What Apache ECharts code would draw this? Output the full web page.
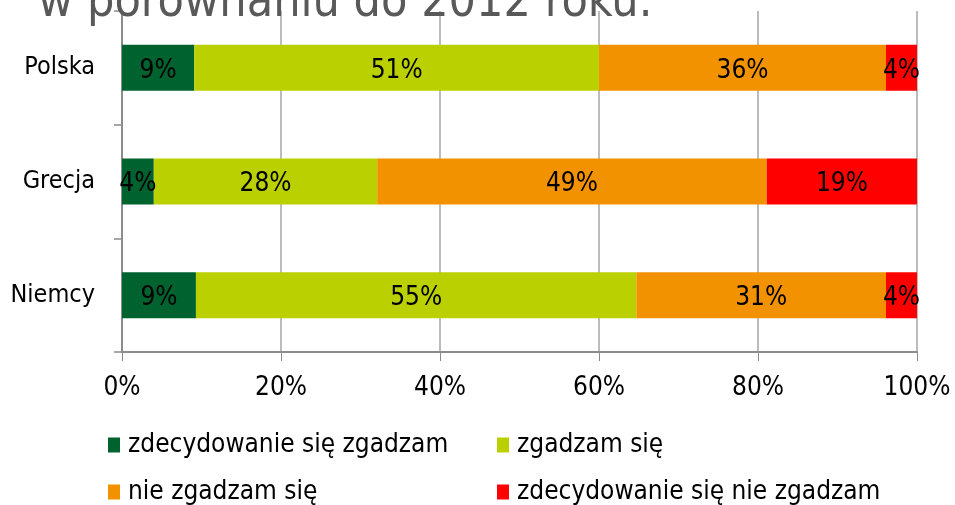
<!DOCTYPE html>
<html>
<head>
<meta charset="utf-8">
<script src="https://cdn.jsdelivr.net/npm/echarts@6/dist/echarts.min.js"></script>
<style>
  html, body { margin: 0; padding: 0; background: #fff; }
  #chart { width: 955px; height: 505px; }
</style>
</head>
<body>
<div id="chart"></div>
<script>
// dane (procenty)
const countries = ['Polska', 'Grecja', 'Niemcy']
const seriesNames = ['zdecydowanie się zgadzam', 'zgadzam się', 'nie zgadzam się', 'zdecydowanie się nie zgadzam']
const stronglyAgree = [9.1, 4.0, 9.3]
const agree = [50.9, 28.1, 55.4]
const disagree = [36.1, 49.0, 31.4]
const stronglyDisagree = [3.9, 18.9, 3.9]
const xTicks = [0, 20, 40, 60, 80, 100]

const colors = ['#00622E', '#BBD000', '#F39200', '#FF0000']
const FONT = '"DejaVu Sans Condensed", "DejaVu Sans", sans-serif'

const chart = echarts.init(document.getElementById('chart'))

const values = [stronglyAgree, agree, disagree, stronglyDisagree]

const series = values.map((data, i) => ({
  name: seriesNames[i],
  type: 'bar',
  stack: 'total',
  barWidth: 46,
  data: data,
  itemStyle: { color: colors[i] },
  label: {
    show: true,
    position: 'inside',
    offset: [0, 3],
    color: '#000',
    fontFamily: FONT,
    fontSize: 26,
    formatter: (p) => Math.round(p.value) + '%'
  }
}))

// legenda w dwóch kolumnach
const legendPos = [
  { left: 108, top: 432 },
  { left: 497, top: 432 },
  { left: 108, top: 479 },
  { left: 497, top: 479 }
]
const legends = legendPos.map((pos, i) => ({
  left: pos.left,
  top: pos.top,
  data: [seriesNames[i]],
  icon: 'rect',
  itemWidth: 12,
  itemHeight: 15,
  itemGap: 8,
  padding: 0,
  textStyle: { color: '#000', fontFamily: FONT, fontSize: 26, padding: [0, 0, 0, 3] }
}))

const option = {
  animation: false,
  backgroundColor: '#fff',
  grid: { left: 122, right: 38, top: 11, bottom: 153 },
  legend: legends,
  xAxis: {
    type: 'value',
    min: xTicks[0],
    max: xTicks[xTicks.length - 1],
    interval: 20,
    axisLine: { show: true, lineStyle: { color: '#8C8C8C', width: 2 } },
    axisTick: { show: true, length: 9, lineStyle: { color: '#8C8C8C' } },
    splitLine: { show: true, lineStyle: { color: '#A6A6A6', width: 1.5 } },
    axisLabel: {
      color: '#000',
      fontFamily: FONT,
      fontSize: 26,
      margin: 23,
      formatter: '{value}%'
    }
  },
  yAxis: {
    type: 'category',
    inverse: true,
    data: countries,
    axisLine: { show: true, lineStyle: { color: '#8C8C8C', width: 2 } },
    axisTick: { show: true, length: 8, lineStyle: { color: '#8C8C8C', width: 1.5 } },
    axisLabel: { color: '#000', fontFamily: FONT, fontSize: 25, margin: 27, padding: [7, 0, 0, 0] }
  },
  graphic: [{
    type: 'text',
    left: 38,
    top: -20,
    z: 100,
    style: {
      text: 'w porównaniu do 2012 roku.',
      fill: '#595959',
      font: '48px ' + FONT
    }
  }],
  series: series
}

chart.setOption(option)
</script>
</body>
</html>
